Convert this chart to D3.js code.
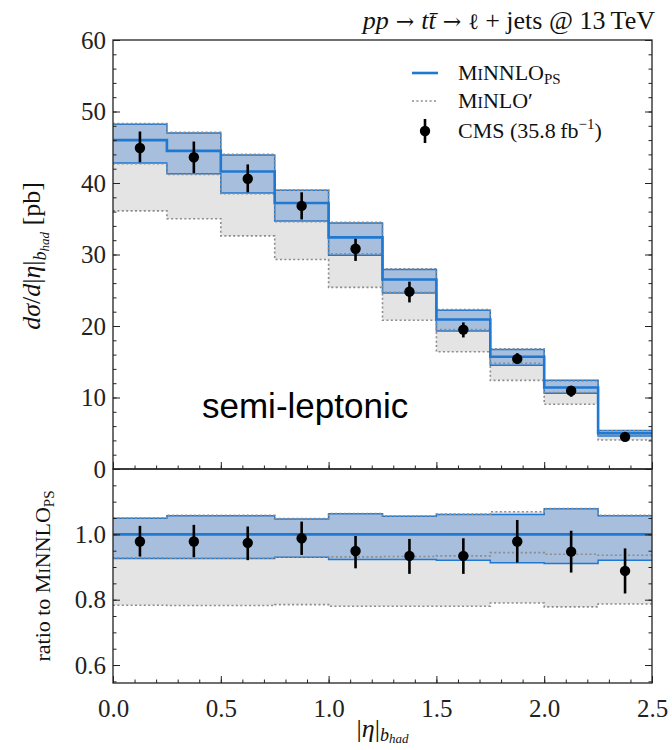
<!DOCTYPE html>
<html><head><meta charset="utf-8">
<script src="https://cdn.jsdelivr.net/npm/d3@7"></script>
<style>
body{margin:0;background:#fff;}
svg{display:block;}
text{font-family:"Liberation Serif","DejaVu Serif",serif;fill:#111;}
</style></head>
<body><svg id="c" width="672" height="750"></svg>
<script>
// ---- data ----
const binEdges = [0,0.25,0.5,0.75,1.0,1.25,1.5,1.75,2.0,2.25,2.5];
// upper panel (pb)
const minnloC  = [46.0,44.5,41.6,37.2,32.4,26.5,20.9,15.7,11.4,5.0];
const minnloUp = [48.2,47.0,43.9,39.0,34.4,27.9,22.2,16.7,12.4,5.4];
const minnloDn = [42.8,41.3,38.6,34.7,29.9,24.6,19.3,14.5,10.6,4.6];
const minloC   = [42.7,41.2,38.5,34.6,30.1,24.7,19.5,14.8,10.7,4.7];
const minloUp  = [48.3,47.1,44.0,39.0,34.5,28.0,22.3,16.8,12.3,5.35];
const minloDn  = [36.1,35.0,32.6,29.3,25.4,20.8,16.4,12.4,9.05,4.05];
const cmsVal   = [44.9,43.6,40.6,36.8,30.8,24.8,19.5,15.4,10.95,4.5];
const cmsUp    = [47.2,45.8,42.6,38.7,32.2,26.2,20.5,16.2,11.5,4.8];
const cmsDn    = [42.9,41.4,38.7,34.9,29.1,23.3,18.4,14.7,10.1,4.1];
// ratio panel
const rMinnloC  = [1,1,1,1,1,1,1,1,1,1];
const rMinnloUp = [1.049,1.057,1.057,1.047,1.063,1.055,1.061,1.061,1.078,1.057];
const rMinnloDn = [0.926,0.926,0.926,0.930,0.923,0.923,0.921,0.913,0.911,0.921];
const rMinloC   = [0.928,0.927,0.927,0.930,0.931,0.932,0.934,0.944,0.939,0.936];
const rMinloUp  = [1.050,1.058,1.058,1.048,1.064,1.056,1.062,1.069,1.079,1.058];
const rMinloDn  = [0.783,0.782,0.782,0.785,0.780,0.780,0.780,0.790,0.778,0.787];
const rCms      = [0.978,0.978,0.974,0.988,0.949,0.934,0.934,0.978,0.947,0.888];
const rCmsUp    = [1.026,1.029,1.024,1.039,0.995,0.986,0.988,1.044,1.011,0.957];
const rCmsDn    = [0.932,0.930,0.921,0.937,0.896,0.879,0.879,0.914,0.883,0.819];
// ticks
const xTicks = [0,0.5,1.0,1.5,2.0,2.5];
const xTickLabels = ["0.0","0.5","1.0","1.5","2.0","2.5"];
const yTopTicks = [0,10,20,30,40,50,60];
const yRatTicks = [0.6,0.8,1.0];
const yRatTickLabels = ["0.6","0.8","1.0"];

// ---- layout ----
const L=113, R=652, T1=40, B1=469, T2=469, B2=683;
const BLUE="#1f78d2", BAND="#a7bfdd", GREY="#e4e4e4", DOT="#8c8c8c";

const svg = d3.select("#c");
const x = d3.scaleLinear().domain([0,2.5]).range([L,R]);
const yTop = d3.scaleLinear().domain([0,60]).range([B1,T1]);
const yRat = d3.scaleLinear().domain([0.545,1.2]).range([B2,T2]);

function steps(vals){
  const pts=[];
  vals.forEach((v,i)=>{pts.push([binEdges[i],v]);pts.push([binEdges[i+1],v]);});
  return pts;
}
function bandPts(lo,hi){
  const pts=[];
  lo.forEach((v,i)=>{pts.push([binEdges[i],v,hi[i]]);pts.push([binEdges[i+1],v,hi[i]]);});
  return pts;
}

function panel(y, d){
  const g = svg.append("g");
  const area = d3.area().x(p=>x(p[0])).y0(p=>y(p[1])).y1(p=>y(p[2]));
  const line = d3.line().x(p=>x(p[0])).y(p=>y(p[1]));
  g.append("path").attr("d",area(bandPts(d.loDn,d.loUp))).attr("fill",GREY);
  g.append("path").attr("d",area(bandPts(d.nnDn,d.nnUp))).attr("fill",BAND);
  [d.nnUp,d.nnDn].forEach(a=>g.append("path").attr("d",line(steps(a))).attr("fill","none").attr("stroke",BLUE).attr("stroke-width",1.5));
  [d.loUp,d.loC,d.loDn].forEach(a=>g.append("path").attr("d",line(steps(a))).attr("fill","none").attr("stroke",DOT).attr("stroke-width",1.6).attr("stroke-dasharray","2,2.4"));
  g.append("path").attr("d",line(steps(d.nnC))).attr("fill","none").attr("stroke",BLUE).attr("stroke-width",2.6);
  const cx = i=>x((binEdges[i]+binEdges[i+1])/2);
  g.selectAll(".eb").data(d.cms).enter().append("line")
    .attr("x1",(v,i)=>cx(i)).attr("x2",(v,i)=>cx(i))
    .attr("y1",(v,i)=>y(d.up[i])).attr("y2",(v,i)=>y(d.dn[i]))
    .attr("stroke","#000").attr("stroke-width",2.6);
  g.selectAll(".pt").data(d.cms).enter().append("circle")
    .attr("cx",(v,i)=>cx(i)).attr("cy",v=>y(v)).attr("r",5.2).attr("fill","#000");
}
panel(yTop,{nnC:minnloC,nnUp:minnloUp,nnDn:minnloDn,loC:minloC,loUp:minloUp,loDn:minloDn,cms:cmsVal,up:cmsUp,dn:cmsDn});
panel(yRat,{nnC:rMinnloC,nnUp:rMinnloUp,nnDn:rMinnloDn,loC:rMinloC,loUp:rMinloUp,loDn:rMinloDn,cms:rCms,up:rCmsUp,dn:rCmsDn});

// ---- axes ----
function styleAx(g){ g.select(".domain").remove(); g.selectAll("line").attr("stroke","#222").attr("stroke-width",1); g.selectAll("text").style("font-family","Liberation Serif").style("font-size","25px").style("fill","#222"); }
const minorX = d3.range(0,2.501,0.1);
// top panel
svg.append("g").attr("transform",`translate(${L},0)`).call(d3.axisLeft(yTop).tickValues(yTopTicks).tickSize(-7).tickPadding(7).tickFormat(d3.format("d"))).call(styleAx);
svg.append("g").attr("transform",`translate(${L},0)`).call(d3.axisLeft(yTop).tickValues(d3.range(0,60.1,2)).tickSize(-3.5).tickFormat("")).call(styleAx);
svg.append("g").attr("transform",`translate(${R},0)`).call(d3.axisRight(yTop).tickValues(yTopTicks).tickSize(-7).tickFormat("")).call(styleAx);
svg.append("g").attr("transform",`translate(${R},0)`).call(d3.axisRight(yTop).tickValues(d3.range(0,60.1,2)).tickSize(-3.5).tickFormat("")).call(styleAx);
svg.append("g").attr("transform",`translate(0,${B1})`).call(d3.axisBottom(x).tickValues(xTicks).tickSize(-7).tickFormat("")).call(styleAx);
svg.append("g").attr("transform",`translate(0,${B1})`).call(d3.axisBottom(x).tickValues(minorX).tickSize(-3.5).tickFormat("")).call(styleAx);
// ratio panel
svg.append("g").attr("transform",`translate(${L},0)`).call(d3.axisLeft(yRat).tickValues(yRatTicks).tickSize(-7).tickPadding(7).tickFormat((d,i)=>yRatTickLabels[i])).call(styleAx);
svg.append("g").attr("transform",`translate(${L},0)`).call(d3.axisLeft(yRat).tickValues(d3.range(0.55,1.2,0.05)).tickSize(-3.5).tickFormat("")).call(styleAx);
svg.append("g").attr("transform",`translate(${R},0)`).call(d3.axisRight(yRat).tickValues(yRatTicks).tickSize(-7).tickFormat("")).call(styleAx);
svg.append("g").attr("transform",`translate(${R},0)`).call(d3.axisRight(yRat).tickValues(d3.range(0.55,1.2,0.05)).tickSize(-3.5).tickFormat("")).call(styleAx);
svg.append("g").attr("transform",`translate(0,${B2})`).call(d3.axisBottom(x).tickValues(xTicks).tickSize(-7).tickPadding(16).tickFormat((d,i)=>xTickLabels[i])).call(styleAx);
svg.append("g").attr("transform",`translate(0,${B2})`).call(d3.axisBottom(x).tickValues(minorX).tickSize(-3.5).tickFormat("")).call(styleAx);

// frames
svg.append("rect").attr("x",L).attr("y",T1).attr("width",R-L).attr("height",B1-T1).attr("fill","none").attr("stroke","#222").attr("stroke-width",1.3);
svg.append("rect").attr("x",L).attr("y",T2).attr("width",R-L).attr("height",B2-T2).attr("fill","none").attr("stroke","#222").attr("stroke-width",1.3);

// ---- title ----
const title = svg.append("text").attr("x",R+3).attr("y",29).attr("text-anchor","end").style("font-size","26px");
title.append("tspan").style("font-style","italic").text("pp");
title.append("tspan").style("font-family","DejaVu Serif").style("font-size","22px").text(" \u2192 ");
title.append("tspan").style("font-style","italic").text("t");
title.append("tspan").style("font-style","italic").text("t\u0304");
title.append("tspan").style("font-family","DejaVu Serif").style("font-size","22px").text(" \u2192 ");
title.append("tspan").style("font-family","DejaVu Serif").style("font-size","22px").text("\u2113");
title.append("tspan").text(" + jets @ 13\u2009TeV");

// ---- y labels ----
const yl = svg.append("text").attr("transform","translate(40,256) rotate(-90)").attr("text-anchor","middle").style("font-size","26px");
yl.append("tspan").style("font-style","italic").text("d\u03C3");
yl.append("tspan").text("/");
yl.append("tspan").style("font-style","italic").text("d");
yl.append("tspan").text("|");
yl.append("tspan").style("font-style","italic").text("\u03B7");
yl.append("tspan").text("|");
yl.append("tspan").style("font-style","italic").style("font-size","18px").attr("dy",6).text("b");
yl.append("tspan").style("font-style","italic").style("font-size","13px").attr("dy",3).text("had");
yl.append("tspan").attr("dy",-9).text(" [pb]");

const rl = svg.append("text").attr("transform","translate(50,576) rotate(-90)").attr("text-anchor","middle").style("font-size","22px");
rl.append("tspan").text("ratio to M");
rl.append("tspan").style("font-size","16px").text("I");
rl.append("tspan").text("NNLO");
rl.append("tspan").style("font-size","15px").attr("dy",4).text("PS");

// ---- x label ----
const xl = svg.append("text").attr("x",(L+R)/2).attr("y",737).attr("text-anchor","middle").style("font-size","26px");
xl.append("tspan").text("|");
xl.append("tspan").style("font-style","italic").text("\u03B7");
xl.append("tspan").text("|");
xl.append("tspan").style("font-style","italic").style("font-size","18px").attr("dy",4).text("b");
xl.append("tspan").style("font-style","italic").style("font-size","13px").attr("dy",2).text("had");

// ---- legend ----
const lg = svg.append("g");
lg.append("line").attr("x1",412).attr("x2",438).attr("y1",73).attr("y2",73).attr("stroke",BLUE).attr("stroke-width",2.6);
let t1 = lg.append("text").attr("x",458).attr("y",80).style("font-size","22px");
t1.append("tspan").text("M"); t1.append("tspan").style("font-size","16px").text("I"); t1.append("tspan").text("NNLO"); t1.append("tspan").style("font-size","15px").attr("dy",4).text("PS");
lg.append("line").attr("x1",412).attr("x2",438).attr("y1",101).attr("y2",101).attr("stroke",DOT).attr("stroke-width",1.6).attr("stroke-dasharray","2,2.4");
let t2 = lg.append("text").attr("x",458).attr("y",108).style("font-size","22px");
t2.append("tspan").text("M"); t2.append("tspan").style("font-size","16px").text("I"); t2.append("tspan").text("NLO\u2032");
lg.append("line").attr("x1",425).attr("x2",425).attr("y1",119).attr("y2",143).attr("stroke","#000").attr("stroke-width",2.6);
lg.append("circle").attr("cx",425).attr("cy",131).attr("r",5.2).attr("fill","#000");
let t3 = lg.append("text").attr("x",458).attr("y",138).style("font-size","22px");
t3.append("tspan").text("CMS (35.8\u2009fb");
t3.append("tspan").style("font-size","15px").attr("dy",-9).text("\u22121");
t3.append("tspan").attr("dy",9).text(")");

// ---- annotation ----
svg.append("text").attr("x",202).attr("y",418).style("font-family","'Liberation Sans', Arial, sans-serif").style("font-size","35px").style("fill","#000").text("semi-leptonic");
</script></body></html>
